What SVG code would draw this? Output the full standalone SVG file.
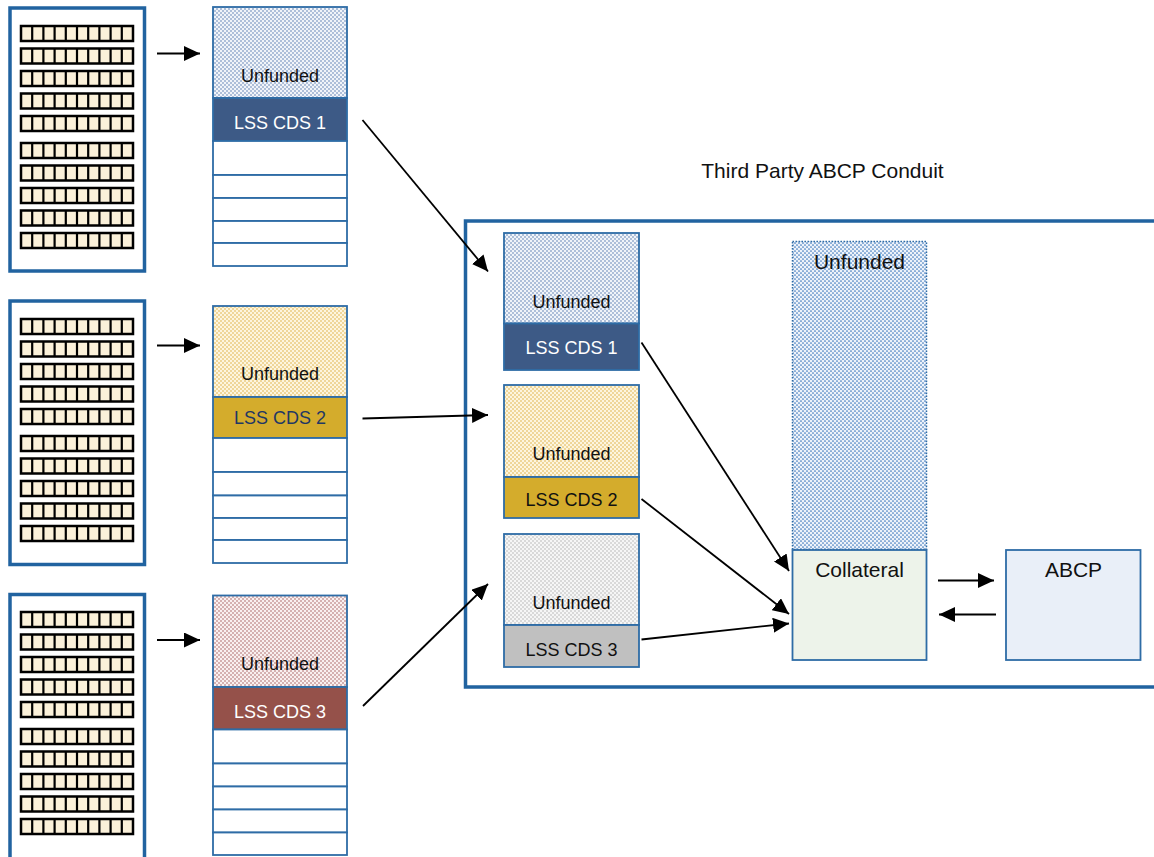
<svg xmlns="http://www.w3.org/2000/svg" width="1154" height="857" viewBox="0 0 1154 857">
<style>
text{font-family:"Liberation Sans",Arial,sans-serif;text-anchor:middle}
.s{font-size:18px}
.b{font-size:21px}
.port{fill:#fff;stroke:#2163a0;stroke-width:3.5}
.tr{stroke:#2e6ca6;stroke-width:1.8}
.wt{fill:#fff}
.ln{stroke:#000;stroke-width:1.8;fill:none;marker-end:url(#ah)}
.cell{fill:#fbf1da;stroke:#000;stroke-width:2.5}
</style>
<defs>
<marker id="ah" markerUnits="userSpaceOnUse" markerWidth="17" markerHeight="15" refX="16" refY="7.5" orient="auto">
<path d="M0,0 L16,7.5 L0,15 z" fill="#000"/>
</marker>
<pattern id="pBlue" patternUnits="userSpaceOnUse" width="4" height="4">
<rect width="4" height="4" fill="#f1f4f9"/>
<circle cx="1" cy="1" r="0.8" fill="#5a7db0"/>
<circle cx="3" cy="3" r="0.8" fill="#5a7db0"/>
</pattern>
<pattern id="pBig" patternUnits="userSpaceOnUse" width="4" height="4">
<rect width="4" height="4" fill="#eef3fa"/>
<circle cx="1" cy="1" r="0.85" fill="#3d78bd"/>
<circle cx="3" cy="3" r="0.85" fill="#3d78bd"/>
</pattern>
<pattern id="pGold" patternUnits="userSpaceOnUse" width="4" height="4">
<rect width="4" height="4" fill="#fdf5de"/>
<circle cx="1" cy="1" r="0.8" fill="#ddb040"/>
<circle cx="3" cy="3" r="0.8" fill="#ddb040"/>
</pattern>
<pattern id="pRed" patternUnits="userSpaceOnUse" width="4" height="4">
<rect width="4" height="4" fill="#f9f0f0"/>
<circle cx="1" cy="1" r="0.8" fill="#a86060"/>
<circle cx="3" cy="3" r="0.8" fill="#a86060"/>
</pattern>
<pattern id="pGrey" patternUnits="userSpaceOnUse" width="4" height="4">
<rect width="4" height="4" fill="#f6f6f6"/>
<circle cx="1" cy="1" r="0.8" fill="#b4b4b4"/>
<circle cx="3" cy="3" r="0.8" fill="#b4b4b4"/>
</pattern>
<g id="row">
<rect class="cell" x="0" y="0" width="112" height="15"/>
<path d="M11.2,0V15M22.4,0V15M33.6,0V15M44.8,0V15M56,0V15M67.2,0V15M78.4,0V15M89.6,0V15M100.8,0V15" stroke="#000" stroke-width="2.2"/>
</g>
<g id="grid">
<use href="#row" x="21" y="26"/>
<use href="#row" x="21" y="48.5"/>
<use href="#row" x="21" y="71"/>
<use href="#row" x="21" y="93.5"/>
<use href="#row" x="21" y="116"/>
<use href="#row" x="21" y="143"/>
<use href="#row" x="21" y="165.5"/>
<use href="#row" x="21" y="188"/>
<use href="#row" x="21" y="210.5"/>
<use href="#row" x="21" y="233"/>
</g>
</defs>
<rect width="1154" height="857" fill="#fff"/>

<g id="portfolio1">
<rect class="port" x="10" y="8" width="134.5" height="263"/>
<use href="#grid"/>
</g>
<g id="portfolio2">
<rect class="port" x="10" y="301" width="134.5" height="263.5"/>
<use href="#grid" y="293"/>
</g>
<g id="portfolio3">
<rect class="port" x="10" y="594.5" width="134.5" height="275"/>
<use href="#grid" y="586"/>
</g>

<g id="stack1">
<rect class="tr" x="213" y="7" width="134" height="91" fill="url(#pBlue)"/>
<rect class="tr" x="213" y="98" width="134" height="43" fill="#3d5a86"/>
<rect class="tr wt" x="213" y="141" width="134" height="34"/>
<rect class="tr wt" x="213" y="175" width="134" height="23"/>
<rect class="tr wt" x="213" y="198" width="134" height="23"/>
<rect class="tr wt" x="213" y="221" width="134" height="22"/>
<rect class="tr wt" x="213" y="243" width="134" height="23"/>
<text class="s" x="280" y="82" fill="#111">Unfunded</text>
<text class="s" x="280" y="128.5" fill="#fff">LSS CDS 1</text>
</g>
<g id="stack2">
<rect class="tr" x="213" y="306" width="134" height="91" fill="url(#pGold)"/>
<rect class="tr" x="213" y="397" width="134" height="41" fill="#d4ac2c"/>
<rect class="tr wt" x="213" y="438" width="134" height="34"/>
<rect class="tr wt" x="213" y="472" width="134" height="23.5"/>
<rect class="tr wt" x="213" y="495.5" width="134" height="22.5"/>
<rect class="tr wt" x="213" y="518" width="134" height="22"/>
<rect class="tr wt" x="213" y="540" width="134" height="23"/>
<text class="s" x="280" y="380" fill="#111">Unfunded</text>
<text class="s" x="280" y="423.5" fill="#1f3864">LSS CDS 2</text>
</g>
<g id="stack3">
<rect class="tr" x="213" y="595.5" width="134" height="91.5" fill="url(#pRed)"/>
<rect class="tr" x="213" y="687" width="134" height="42.5" fill="#95514a"/>
<rect class="tr wt" x="213" y="729.5" width="134" height="34"/>
<rect class="tr wt" x="213" y="763.5" width="134" height="23"/>
<rect class="tr wt" x="213" y="786.5" width="134" height="23"/>
<rect class="tr wt" x="213" y="809.5" width="134" height="23"/>
<rect class="tr wt" x="213" y="832.5" width="134" height="22.5"/>
<text class="s" x="280" y="670" fill="#111">Unfunded</text>
<text class="s" x="280" y="717.5" fill="#fff">LSS CDS 3</text>
</g>

<g id="conduit">
<rect x="465.5" y="221" width="720" height="466" fill="none" stroke="#2163a0" stroke-width="3.5"/>
<text class="b" x="822.5" y="177.5" fill="#111">Third Party ABCP Conduit</text>
</g>

<g id="inner1">
<rect class="tr" x="504" y="233" width="135" height="90.5" fill="url(#pBlue)"/>
<rect class="tr" x="504" y="323.5" width="135" height="46.5" fill="#3d5a86"/>
<text class="s" x="571.5" y="307.5" fill="#111">Unfunded</text>
<text class="s" x="571.5" y="354" fill="#fff">LSS CDS 1</text>
</g>
<g id="inner2">
<rect class="tr" x="504" y="385" width="135" height="92" fill="url(#pGold)"/>
<rect class="tr" x="504" y="477" width="135" height="41" fill="#d4ac2c"/>
<text class="s" x="571.5" y="459.5" fill="#111">Unfunded</text>
<text class="s" x="571.5" y="506" fill="#111">LSS CDS 2</text>
</g>
<g id="inner3">
<rect class="tr" x="504" y="534" width="135" height="91" fill="url(#pGrey)"/>
<rect class="tr" x="504" y="625" width="135" height="42" fill="#c0c0c0"/>
<text class="s" x="571.5" y="608.5" fill="#111">Unfunded</text>
<text class="s" x="571.5" y="656" fill="#111">LSS CDS 3</text>
</g>

<g id="unfundedBig">
<rect x="792.5" y="241.5" width="134" height="308" fill="url(#pBig)" stroke="#2e6ca6" stroke-width="1.5" stroke-dasharray="1.5,1.5"/>
<text class="b" x="859.5" y="269" fill="#111">Unfunded</text>
</g>
<g id="collateral">
<rect class="tr" x="792.5" y="550" width="134" height="110" fill="#edf3ea"/>
<text class="b" x="859.5" y="577" fill="#111">Collateral</text>
</g>
<g id="abcp">
<rect class="tr" x="1006" y="550" width="134.5" height="110" fill="#e9eff8"/>
<text class="b" x="1073.5" y="577" fill="#111">ABCP</text>
</g>

<g id="connectors">
<line class="ln" x1="157" y1="53.5" x2="200" y2="53.5"/>
<line class="ln" x1="157" y1="345.5" x2="200" y2="345.5"/>
<line class="ln" x1="157" y1="640" x2="200" y2="640"/>
<line class="ln" x1="362.5" y1="120" x2="488" y2="271.5"/>
<line class="ln" x1="362.5" y1="418.5" x2="488" y2="415"/>
<line class="ln" x1="363" y1="706" x2="488" y2="584"/>
<line class="ln" x1="641.5" y1="342.5" x2="789" y2="571"/>
<line class="ln" x1="641.5" y1="499" x2="789" y2="614"/>
<line class="ln" x1="641.5" y1="639.5" x2="789" y2="623.5"/>
<line class="ln" x1="938" y1="580.5" x2="994" y2="580.5"/>
<line class="ln" x1="996" y1="614.5" x2="939" y2="614.5"/>
</g>
</svg>
